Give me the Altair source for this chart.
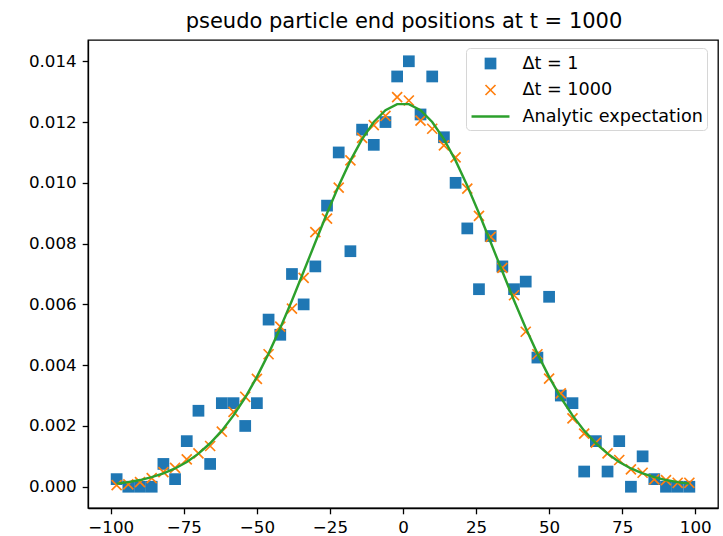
import altair as alt
import pandas as pd

# ---- data ----
positions = [-98, -94, -90, -86, -82, -78, -74, -70, -66, -62,
             -58, -54, -50, -46, -42, -38, -34, -30, -26, -22,
             -18, -14, -10, -6, -2, 2, 6, 10, 14, 18,
             22, 26, 30, 34, 38, 42, 46, 50, 54, 58,
             62, 66, 70, 74, 78, 82, 86, 90, 94, 98]

dt1_values = [0.00025, 0.0, 0.0, 0.0, 0.00075, 0.00025, 0.0015, 0.0025, 0.00075, 0.00275,
              0.00275, 0.002, 0.00275, 0.0055, 0.005, 0.007, 0.006, 0.00725, 0.00925, 0.011,
              0.00775, 0.01175, 0.01125, 0.012, 0.0135, 0.014, 0.01225, 0.0135, 0.0115, 0.01,
              0.0085, 0.0065, 0.00825, 0.00725, 0.0065, 0.00675, 0.00425, 0.00625, 0.003, 0.00275,
              0.0005, 0.0015, 0.0005, 0.0015, 0.0, 0.001, 0.00025, 0.0, 0.0, 0.0]

dt1000_values = [0.00005, 0.00008, 0.00015, 0.00028, 0.00048, 0.00062, 0.0009, 0.0011, 0.00134, 0.00181,
                 0.00246, 0.00296, 0.00355, 0.00436, 0.00527, 0.00586, 0.00687, 0.00838, 0.00882, 0.00984,
                 0.01074, 0.01148, 0.0119, 0.0122, 0.01282, 0.01271, 0.01205, 0.01178, 0.01123, 0.01084,
                 0.00981, 0.00891, 0.00822, 0.0072, 0.0063, 0.0051, 0.00436, 0.00356, 0.00307, 0.00225,
                 0.00175, 0.00145, 0.0011, 0.00088, 0.00057, 0.00046, 0.00024, 0.00022, 0.00013, 0.00013]

analytic_values = [0.000104, 0.000152, 0.000220, 0.000313, 0.000437, 0.000602, 0.000816, 0.001089, 0.001430, 0.001846,
                   0.002347, 0.002936, 0.003615, 0.004380, 0.005222, 0.006130, 0.007080, 0.008044, 0.008998, 0.009904,
                   0.010730, 0.011437, 0.012001, 0.012391, 0.012591, 0.012591, 0.012391, 0.012001, 0.011437, 0.010730,
                   0.009904, 0.008998, 0.008044, 0.007080, 0.006130, 0.005222, 0.004380, 0.003615, 0.002936, 0.002347,
                   0.001846, 0.001430, 0.001089, 0.000816, 0.000602, 0.000437, 0.000313, 0.000220, 0.000152, 0.000104]

series_names = ["Δt = 1", "Δt = 1000", "Analytic expectation"]
series_colors = ["#1f77b4", "#ff7f0e", "#2ca02c"]

x_ticks = [-100, -75, -50, -25, 0, 25, 50, 75, 100]
y_ticks = [0.0, 0.002, 0.004, 0.006, 0.008, 0.010, 0.012, 0.014]

title_text = ["pseudo particle end positions at t = 1000"]

# ---- marker shapes (unit paths, scaled by the symbol size) ----
SQUARE = "M-0.51,-0.51H0.51V0.51H-0.51Z"
CROSS = ("M-0.383,-0.487L0.487,0.383L0.383,0.487L-0.487,-0.383Z "
         "M-0.383,0.487L-0.487,0.383L0.383,-0.487L0.487,-0.383Z")
LINE = "M-1.65,-0.1H1.65V0.1H-1.65Z"
SYM = 529

df_sq = pd.DataFrame({"x": positions, "y": dt1_values, "series": series_names[0]})
df_x = pd.DataFrame({"x": positions, "y": dt1000_values, "series": series_names[1]})
df_line = pd.DataFrame({"x": positions, "y": analytic_values, "series": series_names[2]})
df_title = pd.DataFrame({"t": title_text})

xscale = alt.Scale(domain=[-107.8, 107.8], nice=False, zero=False)
yscale = alt.Scale(domain=[-0.0007, 0.0147], nice=False, zero=False)
fill_scale = alt.Scale(domain=series_names, range=series_colors)
shape_scale = alt.Scale(domain=series_names, range=[SQUARE, CROSS, LINE])

X = alt.X("x:Q", scale=xscale, title=None,
          axis=alt.Axis(values=x_ticks, format="d"))
Y = alt.Y("y:Q", scale=yscale, title=None,
          axis=alt.Axis(values=y_ticks, format=".3f"))

squares = alt.Chart(df_sq).mark_point(filled=True, size=SYM, opacity=1, strokeWidth=0).encode(
    x=X, y=Y,
    fill=alt.Fill("series:N", scale=fill_scale, title=None),
    shape=alt.Shape("series:N", scale=shape_scale, title=None),
)

crosses = alt.Chart(df_x).mark_point(filled=True, size=SYM, opacity=1, strokeWidth=0).encode(
    x=X, y=Y,
    fill=alt.Fill("series:N", scale=fill_scale, title=None),
    shape=alt.Shape("series:N", scale=shape_scale, title=None),
)

line = alt.Chart(df_line).mark_line(strokeWidth=2.4, color=series_colors[2]).encode(
    x=X, y=Y,
)

title = alt.Chart(df_title).mark_text(
    font="DejaVu Sans", fontSize=21, color="black", align="center", baseline="alphabetic",
).encode(
    text="t:N", x=alt.value(316), y=alt.value(-12),
)

chart = alt.layer(squares, crosses, line, title).properties(
    width=630,
    height=468,
    autosize=alt.AutoSizeParams(type="none"),
    padding={"left": 88, "top": 40, "right": 5, "bottom": 28},
).configure_view(
    stroke="black", strokeWidth=1.3
).configure_axis(
    labelFont="DejaVu Sans", labelFontSize=16.7, labelColor="black",
    tickColor="black", tickWidth=1.3, tickSize=5.8,
    domainColor="black", domainWidth=1.3, grid=False, labelPadding=6,
).configure_legend(
    orient="none", legendX=378, legendY=8,
    padding=4, rowPadding=5.5, symbolOffset=9, labelOffset=20.5,
    symbolSize=SYM, symbolStrokeWidth=0,
    labelFont="DejaVu Sans", labelFontSize=17.6, labelColor="black", labelLimit=400,
    fillColor="rgba(255,255,255,0.8)", strokeColor="#d6d6d6", cornerRadius=4,
)

chart.save("out.html", embed_options={"renderer": "svg", "actions": False})
